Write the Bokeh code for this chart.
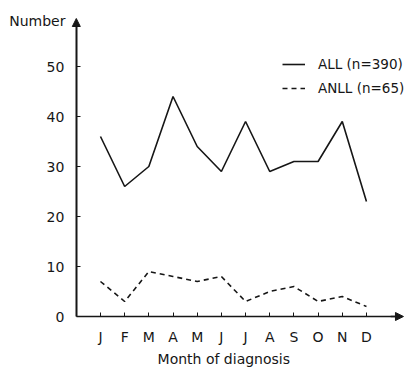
from bokeh.plotting import figure
from bokeh.models import Arrow, NormalHead, Label, Legend, LegendItem, FixedTicker, Range1d
from bokeh.embed import file_html
from bokeh.resources import INLINE

months = ["J", "F", "M", "A", "M", "J", "J", "A", "S", "O", "N", "D"]
month_idx = list(range(1, 13))
all_counts = [36, 26, 30, 44, 34, 29, 39, 29, 31, 31, 39, 23]
anll_counts = [7, 3, 9, 8, 7, 8, 3, 5, 6, 3, 4, 2]
y_ticks = [0, 10, 20, 30, 40, 50]

FONT = "DejaVu Sans"
INK = "#161616"

W, H = 409, 368
PX_X = 24.18   # px per month
PX_Y = 5.0     # px per count
X0, Y0 = 75.8, 316.0  # page position of data origin

p = figure(width=W, height=H, output_backend="svg", toolbar_location=None,
           x_range=Range1d(-X0 / PX_X, (W - X0) / PX_X),
           y_range=Range1d((Y0 - H) / PX_Y, Y0 / PX_Y),
           min_border=0, min_border_left=0, min_border_right=0,
           min_border_top=0, min_border_bottom=0)
p.outline_line_color = None
p.xgrid.grid_line_color = None
p.ygrid.grid_line_color = None
p.background_fill_color = "white"

r_all = p.line(month_idx, all_counts, line_color=INK, line_width=1.6)
r_anll = p.line(month_idx, anll_counts, line_color=INK, line_width=1.6, line_dash="5 4")

for ax in (p.xaxis[0], p.yaxis[0]):
    ax.fixed_location = 0
    ax.axis_line_color = INK
    ax.major_tick_line_color = INK
    ax.minor_tick_line_color = None
    ax.major_tick_out = 0
    ax.major_tick_in = 4
    ax.major_label_text_font = FONT
    ax.major_label_text_font_size = "14px"
    ax.major_label_text_color = INK

p.xaxis.ticker = FixedTicker(ticks=month_idx)
p.xaxis.major_label_overrides = {i: m for i, m in zip(month_idx, months)}
p.xaxis.axis_line_width = 1.5
p.xaxis.major_label_standoff = 12
p.xaxis.bounds = (0, 13.3)

p.yaxis.ticker = FixedTicker(ticks=y_ticks)
p.yaxis.axis_line_width = 2
p.yaxis.major_label_standoff = 12
p.yaxis.bounds = (0, 58.5)

p.add_layout(Arrow(end=NormalHead(size=8, fill_color=INK, line_color=INK),
                   x_start=13.0, y_start=0, x_end=13.53, y_end=0,
                   line_color=INK, line_width=1.5))
p.add_layout(Arrow(end=NormalHead(size=8, fill_color=INK, line_color=INK),
                   x_start=0, y_start=58, x_end=0, y_end=59.6,
                   line_color=INK, line_width=2))

p.add_layout(Label(x=-0.45, y=59.2, text="Number", text_align="right",
                   text_baseline="middle", text_font=FONT, text_font_size="14px",
                   text_color=INK))
p.add_layout(Label(x=6.1, y=-8.5, text="Month of diagnosis", text_align="center",
                   text_baseline="middle", text_font=FONT, text_font_size="14px",
                   text_color=INK))

legend = Legend(items=[LegendItem(label="ALL (n=390)", renderers=[r_all]),
                       LegendItem(label="ANLL (n=65)", renderers=[r_anll])],
                location=(282, H - 98), padding=0, margin=0, spacing=4,
                glyph_width=23, glyph_height=20, label_height=20, label_standoff=13,
                border_line_color=None, background_fill_alpha=0,
                label_text_font=FONT, label_text_font_size="13.5px", label_text_color=INK)
p.add_layout(legend)

open("out.html", "w").write(file_html(p, INLINE))
